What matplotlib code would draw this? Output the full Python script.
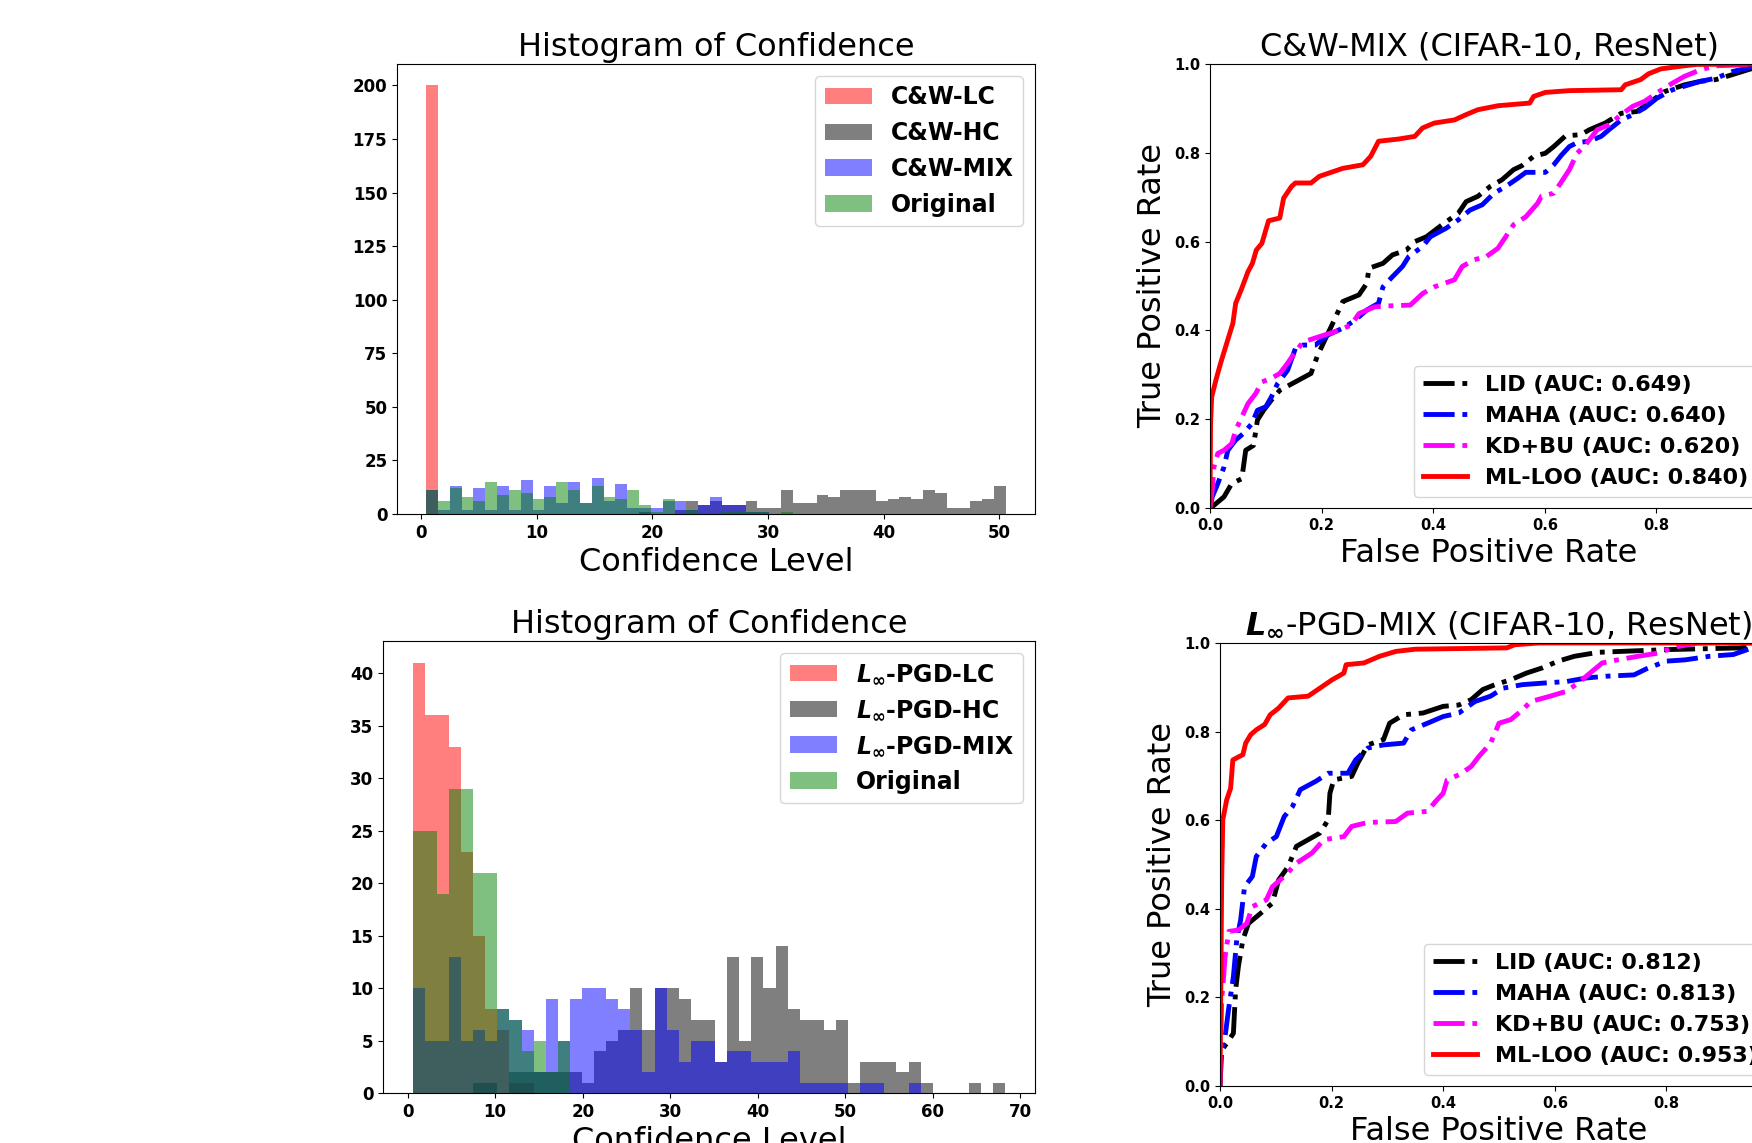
import numpy as np
import matplotlib.pyplot as plt

# ---- histogram data (49 shared bins per panel) ----
cw_bin_range = (0.43, 50.58)
pgd_bin_range = (0.57, 68.28)
n_bins = 49

cw_labels = ['C&W-LC', 'C&W-HC', 'C&W-MIX', 'Original']
cw_lc = [200] + [0] * 48
cw_hc = [0, 0, 0, 0, 0, 0, 0, 0, 0, 0, 0, 0, 0, 0, 0, 0, 0, 0, 1, 0,
         0, 2, 6, 4, 6, 4, 4, 6, 3, 3, 11, 5, 5, 9, 8, 11, 11, 11, 6, 7,
         8, 7, 11, 10, 3, 3, 6, 7, 13]
cw_mix = [11, 2, 13, 2, 12, 2, 13, 2, 16, 2, 13, 5, 15, 5, 17, 6, 14, 3, 3, 3,
          6, 6, 2, 4, 8, 4, 4, 1, 1, 0, 0, 0, 0, 0, 0, 0, 0, 0, 0, 0,
          0, 0, 0, 0, 0, 0, 0, 0, 0]
cw_orig = [11, 6, 12, 8, 6, 15, 9, 11, 10, 7, 8, 15, 11, 5, 13, 8, 7, 11, 4, 1,
           7, 0, 2, 0, 0, 1, 1, 1, 1, 0, 1, 0, 0, 0, 0, 0, 0, 0, 0, 0,
           0, 0, 0, 0, 0, 0, 0, 0, 0]

pgd_labels = [r'$\mathbfit{L}_\infty$-PGD-LC', r'$\mathbfit{L}_\infty$-PGD-HC',
              r'$\mathbfit{L}_\infty$-PGD-MIX', 'Original']
pgd_lc = [41, 36, 36, 33, 23, 15, 8, 6, 1, 1] + [0] * 39
pgd_hc = [0, 0, 0, 0, 0, 1, 1, 0, 2, 2, 2, 2, 2, 2, 1, 4, 5, 6, 10, 6,
          10, 10, 9, 7, 7, 3, 13, 5, 13, 10, 14, 8, 7, 7, 6, 7, 1, 3, 3, 3,
          2, 3, 1, 0, 0, 0, 1, 0, 1]
pgd_mix = [10, 5, 5, 13, 5, 6, 5, 8, 7, 6, 2, 9, 5, 9, 10, 10, 9, 8, 6, 2,
           10, 6, 3, 5, 5, 3, 4, 4, 3, 3, 3, 4, 1, 1, 1, 1, 0, 1, 1, 0,
           0, 1, 0, 0, 0, 0, 0, 0, 0]
pgd_orig = [25, 25, 19, 29, 29, 21, 21, 8, 7, 4, 5, 2, 5] + [0] * 36

# ---- ROC data: C&W-MIX ----
cw_lid_fpr = [0, 0.007, 0.025, 0.039, 0.057, 0.064, 0.078, 0.085, 0.096, 0.11, 0.125, 0.153, 0.181, 0.192,
              0.203, 0.217, 0.228, 0.238, 0.267, 0.281, 0.285, 0.31, 0.327, 0.352, 0.367, 0.388, 0.416,
              0.445, 0.459, 0.48, 0.502, 0.523, 0.544, 0.559, 0.58, 0.601, 0.616, 0.637, 0.665, 0.68,
              0.708, 0.737, 0.765, 0.786, 0.815, 0.85, 0.879, 0.907, 0.936, 0.964, 1.0]
cw_lid_tpr = [0, 0.006, 0.025, 0.055, 0.066, 0.13, 0.141, 0.198, 0.22, 0.243, 0.265, 0.284, 0.303, 0.341,
              0.371, 0.408, 0.438, 0.465, 0.48, 0.506, 0.54, 0.551, 0.57, 0.581, 0.6, 0.611, 0.638,
              0.664, 0.69, 0.702, 0.724, 0.739, 0.762, 0.771, 0.792, 0.799, 0.814, 0.838, 0.841, 0.852,
              0.867, 0.889, 0.893, 0.912, 0.938, 0.953, 0.961, 0.965, 0.976, 0.987, 1.0]
cw_maha_fpr = [0, 0.004, 0.014, 0.025, 0.032, 0.046, 0.06, 0.075, 0.085, 0.1, 0.11, 0.121, 0.139, 0.153,
               0.167, 0.189, 0.21, 0.238, 0.26, 0.281, 0.302, 0.31, 0.324, 0.345, 0.356, 0.381, 0.395,
               0.423, 0.445, 0.466, 0.488, 0.509, 0.53, 0.552, 0.566, 0.601, 0.616, 0.63, 0.644, 0.658,
               0.68, 0.701, 0.715, 0.737, 0.758, 0.779, 0.801, 0.829, 0.85, 0.879, 0.907, 0.936, 0.964, 1.0]
cw_maha_tpr = [0, 0.025, 0.055, 0.092, 0.13, 0.153, 0.168, 0.19, 0.22, 0.228, 0.25, 0.28, 0.31, 0.359,
               0.367, 0.367, 0.389, 0.405, 0.423, 0.446, 0.461, 0.498, 0.517, 0.544, 0.566, 0.589, 0.611,
               0.63, 0.649, 0.671, 0.683, 0.709, 0.724, 0.743, 0.756, 0.756, 0.773, 0.795, 0.814, 0.823,
               0.826, 0.837, 0.852, 0.874, 0.886, 0.901, 0.923, 0.942, 0.95, 0.961, 0.968, 0.983, 0.991, 1.0]
cw_kdbu_fpr = [0, 0.004, 0.007, 0.014, 0.025, 0.039, 0.046, 0.057, 0.068, 0.082, 0.093, 0.11, 0.125, 0.139,
               0.153, 0.167, 0.196, 0.224, 0.253, 0.267, 0.295, 0.317, 0.359, 0.381, 0.402, 0.438, 0.452,
               0.473, 0.495, 0.516, 0.53, 0.544, 0.566, 0.587, 0.594, 0.616, 0.63, 0.644, 0.658, 0.673,
               0.694, 0.715, 0.737, 0.758, 0.779, 0.801, 0.829, 0.85, 0.879, 0.907, 1.0]
cw_kdbu_tpr = [0, 0.04, 0.092, 0.123, 0.13, 0.145, 0.175, 0.205, 0.235, 0.258, 0.284, 0.292, 0.303, 0.326,
               0.352, 0.374, 0.386, 0.397, 0.412, 0.438, 0.453, 0.455, 0.457, 0.483, 0.498, 0.514, 0.544,
               0.559, 0.566, 0.585, 0.611, 0.638, 0.656, 0.686, 0.702, 0.709, 0.735, 0.762, 0.799, 0.818,
               0.852, 0.863, 0.886, 0.905, 0.916, 0.935, 0.957, 0.972, 0.987, 0.996, 1.0]
cw_loo_fpr = [0, 0.001, 0.003, 0.011, 0.019, 0.028, 0.041, 0.046, 0.057, 0.068, 0.076, 0.083, 0.093, 0.1,
              0.105, 0.125, 0.132, 0.146, 0.153, 0.181, 0.196, 0.217, 0.238, 0.274, 0.288, 0.302, 0.338,
              0.367, 0.381, 0.402, 0.438, 0.459, 0.48, 0.516, 0.573, 0.58, 0.601, 0.644, 0.737, 0.744,
              0.772, 0.786, 0.808, 0.85, 0.872, 1.0]
cw_loo_tpr = [0, 0.19, 0.25, 0.29, 0.326, 0.363, 0.416, 0.461, 0.495, 0.532, 0.551, 0.581, 0.596, 0.626,
              0.647, 0.653, 0.698, 0.724, 0.732, 0.732, 0.747, 0.756, 0.765, 0.773, 0.792, 0.826, 0.831,
              0.837, 0.856, 0.867, 0.874, 0.886, 0.897, 0.906, 0.912, 0.927, 0.936, 0.94, 0.942, 0.953,
              0.965, 0.978, 0.989, 0.996, 0.999, 1.0]

# ---- ROC data: L_inf-PGD-MIX ----
pgd_lid_fpr = [0, 0.003, 0.012, 0.024, 0.028, 0.033, 0.041, 0.051, 0.073, 0.094, 0.105, 0.122, 0.137, 0.158,
               0.179, 0.194, 0.197, 0.204, 0.236, 0.247, 0.265, 0.293, 0.304, 0.329, 0.364, 0.4, 0.428,
               0.45, 0.471, 0.493, 0.521, 0.549, 0.578, 0.606, 0.635, 0.678, 0.799, 0.934, 0.948, 1.0]
pgd_lid_tpr = [0, 0.081, 0.096, 0.119, 0.217, 0.27, 0.33, 0.367, 0.39, 0.413, 0.465, 0.495, 0.541, 0.556,
               0.571, 0.601, 0.661, 0.691, 0.699, 0.729, 0.77, 0.782, 0.819, 0.838, 0.842, 0.857, 0.86,
               0.872, 0.895, 0.906, 0.917, 0.932, 0.944, 0.959, 0.97, 0.979, 0.985, 0.989, 0.998, 1.0]
pgd_maha_fpr = [0, 0.001, 0.009, 0.016, 0.024, 0.03, 0.037, 0.044, 0.058, 0.065, 0.083, 0.101, 0.115, 0.13,
                0.144, 0.172, 0.194, 0.229, 0.243, 0.265, 0.293, 0.329, 0.343, 0.372, 0.4, 0.428, 0.457,
                0.485, 0.507, 0.542, 0.585, 0.621, 0.656, 0.692, 0.742, 0.763, 0.799, 0.834, 0.877, 0.92,
                0.954, 1.0]
pgd_maha_tpr = [0, 0.066, 0.111, 0.179, 0.247, 0.33, 0.375, 0.45, 0.473, 0.518, 0.548, 0.563, 0.608, 0.631,
                0.669, 0.688, 0.706, 0.706, 0.736, 0.763, 0.77, 0.774, 0.804, 0.819, 0.834, 0.842, 0.868,
                0.88, 0.898, 0.906, 0.91, 0.913, 0.921, 0.925, 0.928, 0.941, 0.959, 0.962, 0.97, 0.974,
                0.989, 1.0]
pgd_kdbu_fpr = [0, 0.003, 0.007, 0.009, 0.016, 0.033, 0.048, 0.058, 0.083, 0.094, 0.115, 0.137, 0.165, 0.186,
                0.222, 0.236, 0.265, 0.315, 0.336, 0.372, 0.386, 0.4, 0.407, 0.429, 0.45, 0.464, 0.485,
                0.5, 0.521, 0.542, 0.557, 0.592, 0.621, 0.642, 0.663, 0.685, 0.713, 0.749, 0.784, 0.82,
                0.856, 1.0]
pgd_kdbu_tpr = [0, 0.194, 0.255, 0.292, 0.349, 0.352, 0.367, 0.405, 0.42, 0.45, 0.473, 0.503, 0.526, 0.556,
                0.563, 0.586, 0.595, 0.597, 0.616, 0.62, 0.642, 0.661, 0.691, 0.703, 0.721, 0.744, 0.774,
                0.819, 0.827, 0.849, 0.868, 0.88, 0.891, 0.91, 0.932, 0.955, 0.962, 0.97, 0.977, 0.992,
                1.0, 1.0]
pgd_loo_fpr = [0, 0.003, 0.005, 0.012, 0.019, 0.023, 0.041, 0.046, 0.055, 0.065, 0.08, 0.09, 0.105, 0.122,
               0.158, 0.179, 0.201, 0.222, 0.226, 0.258, 0.286, 0.315, 0.35, 0.514, 0.528, 0.571, 1.0]
pgd_loo_tpr = [0, 0.462, 0.601, 0.646, 0.672, 0.736, 0.748, 0.774, 0.793, 0.804, 0.816, 0.838, 0.853, 0.876,
               0.88, 0.898, 0.917, 0.932, 0.951, 0.955, 0.97, 0.981, 0.986, 0.989, 0.996, 1.0, 1.0]

method_names = ['LID', 'MAHA', 'KD+BU', 'ML-LOO']
cw_auc = [0.649, 0.640, 0.620, 0.840]
pgd_auc = [0.812, 0.813, 0.753, 0.953]

hist_colors = ['r', 'k', 'b', 'g']
roc_colors = ['black', 'blue', 'magenta', 'red']
roc_styles = ['-.', '-.', '-.', '-']

plt.rcParams['font.family'] = 'DejaVu Sans'
plt.rcParams['font.weight'] = 'bold'
plt.rcParams['mathtext.fontset'] = 'dejavusans'

W, H = 1752, 1143
fig = plt.figure(figsize=(W / 100, H / 100), dpi=100)


def px_axes(left, top, right, bottom):
    return fig.add_axes([left / W, 1 - bottom / H, (right - left) / W, (bottom - top) / H])


def hist_panel(ax, bin_range, series, labels):
    edges = np.linspace(bin_range[0], bin_range[1], n_bins + 1)
    centers = (edges[:-1] + edges[1:]) / 2
    for counts, color, label in zip(series, hist_colors, labels):
        ax.hist(centers, bins=edges, weights=counts, color=color, alpha=0.5, label=label)
    ax.set_title('Histogram of Confidence', fontsize=23, fontweight='normal')
    ax.set_xlabel('Confidence Level', fontsize=23, fontweight='normal')
    ax.tick_params(labelsize=12)
    ax.legend(loc='upper right', fontsize=17)


def roc_panel(ax, curves, aucs, title):
    for (fpr, tpr), name, auc, color, ls in zip(curves, method_names, aucs, roc_colors, roc_styles):
        ax.plot(fpr, tpr, color=color, linestyle=ls, lw=3.5, label='%s (AUC: %.3f)' % (name, auc))
    ax.set_xlim(0, 1)
    ax.set_ylim(0, 1)
    ax.set_title(title, fontsize=23, fontweight='normal')
    ax.set_xlabel('False Positive Rate', fontsize=23, fontweight='normal')
    ax.set_ylabel('True Positive Rate', fontsize=23, fontweight='normal')
    ax.tick_params(labelsize=10.5)
    ax.legend(loc='lower right', fontsize=16)


ax1 = px_axes(397, 64, 1035, 514)
hist_panel(ax1, cw_bin_range, [cw_lc, cw_hc, cw_mix, cw_orig], cw_labels)

ax2 = px_axes(383, 641, 1035, 1093)
hist_panel(ax2, pgd_bin_range, [pgd_lc, pgd_hc, pgd_mix, pgd_orig], pgd_labels)

ax3 = px_axes(1210, 64, 1768, 508)
roc_panel(ax3, [(cw_lid_fpr, cw_lid_tpr), (cw_maha_fpr, cw_maha_tpr),
                (cw_kdbu_fpr, cw_kdbu_tpr), (cw_loo_fpr, cw_loo_tpr)],
          cw_auc, 'C&W-MIX (CIFAR-10, ResNet)')

ax4 = px_axes(1220, 643, 1778, 1086)
roc_panel(ax4, [(pgd_lid_fpr, pgd_lid_tpr), (pgd_maha_fpr, pgd_maha_tpr),
                (pgd_kdbu_fpr, pgd_kdbu_tpr), (pgd_loo_fpr, pgd_loo_tpr)],
          pgd_auc, r'$\mathbfit{L}_\infty$-PGD-MIX (CIFAR-10, ResNet)')

fig.savefig('out.png', dpi=100)
